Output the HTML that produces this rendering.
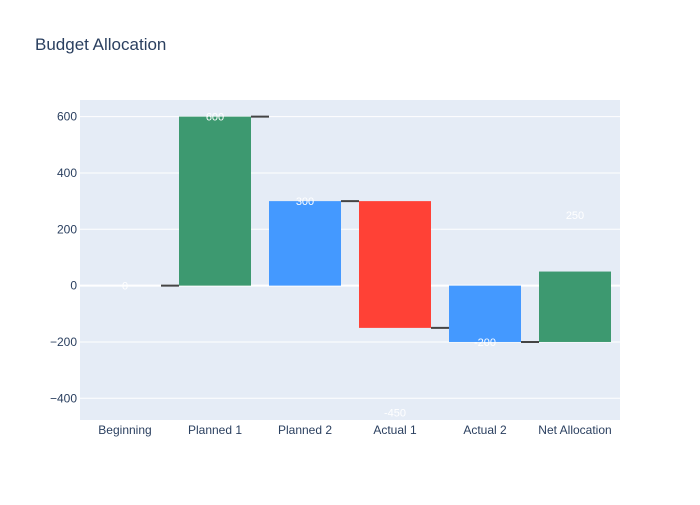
<!DOCTYPE html>
<html><head><meta charset="utf-8"><style>
body{margin:0;background:#fff;font-family:"Liberation Sans",sans-serif}
</style></head><body>
<svg id="chart" width="700" height="500" xmlns="http://www.w3.org/2000/svg">
<rect width="700" height="500" fill="#fff"/>
<text x="35" y="50" font-size="17" fill="#2a3f5f">Budget Allocation</text>
<rect x="80" y="100" width="540" height="320" fill="#e5ecf6"/>
<g id="grid"></g><g id="bars"></g><g id="labels"></g>
</svg>
<script>
const categories=["Beginning","Planned 1","Planned 2","Actual 1","Actual 2","Net Allocation"];
const values=[0,600,300,-450,-200,250];
const measures=["absolute","relative","total","relative","total","relative"];
const yTicks=[-400,-200,0,200,400,600];
const yMin=-477,yMax=659;
const L=80,R=620,T=100,B=420;
const ns="http://www.w3.org/2000/svg";
const svg=document.getElementById('chart');
function y(v){return B-(v-yMin)/(yMax-yMin)*(B-T);}
const bw=(R-L)/categories.length;
function xc(i){return L+bw*(i+0.5);}
function mk(tag,attrs,parent){const e=document.createElementNS(ns,tag);for(const k in attrs)e.setAttribute(k,attrs[k]);parent.appendChild(e);return e;}
const grid=document.getElementById('grid'),bars=document.getElementById('bars'),labels=document.getElementById('labels');
yTicks.forEach(t=>{
  const ln=mk('line',{x1:L,x2:R,y1:y(t),y2:y(t),stroke:'#fff','stroke-width':t===0?2:1},grid);
  
  
  const tx=mk('text',{x:L-3,y:y(t)+4,'text-anchor':'end','font-size':12,fill:'#2a3f5f'},grid);
  tx.textContent=t<0?'\u2212'+Math.abs(t):String(t);
  
  
});
let cum=0;const ends=[];
categories.forEach((c,i)=>{
  let base,top,color;
  if(measures[i]==='absolute'){base=0;top=values[i];cum=values[i];color='#4499FF';}
  else if(measures[i]==='total'){base=0;top=values[i];cum=values[i];color='#4499FF';}
  else{base=cum;top=cum+values[i];cum=top;color=values[i]>=0?'#3D9970':'#FF4136';}
  ends.push(cum);
  const w=bw*0.8;
  const y1=Math.min(y(base),y(top)),h=Math.abs(y(base)-y(top));
  const r=mk('rect',{x:xc(i)-w/2,y:y1,width:w,height:Math.max(h,0.01),fill:color},bars);
  
  
  if(i<categories.length-1){
    const cl=mk('line',{x1:xc(i)+w/2,x2:xc(i+1)-w/2,y1:y(cum),y2:y(cum),stroke:'#444','stroke-width':2},bars);
    
    
  }
  const lt=mk('text',{x:xc(i),y:y(values[i])+4,'text-anchor':'middle','font-size':11,fill:'#fff'},labels);
  lt.textContent=String(values[i]);
  
  
  const xt=mk('text',{x:xc(i),y:B+14,'text-anchor':'middle','font-size':12,fill:'#2a3f5f'},labels);
  xt.textContent=c;
  
  
});
</script>
</body></html>
